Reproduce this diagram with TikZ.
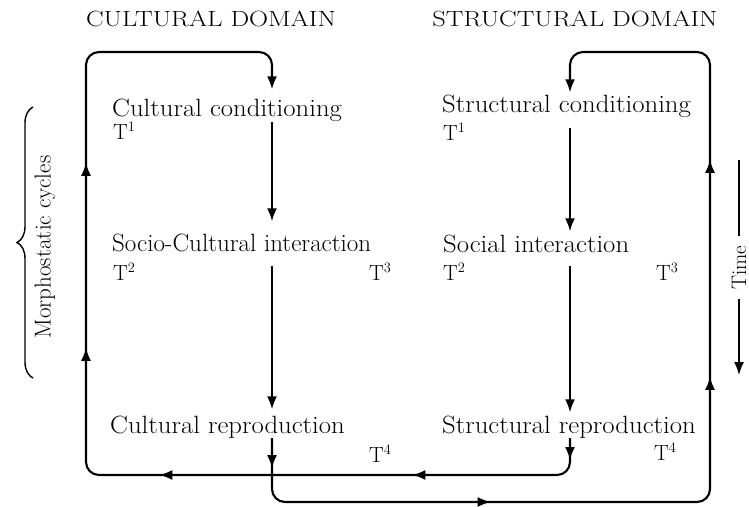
\documentclass[tikz,border=0pt]{standalone}
\usepackage{fontspec}
\usepackage{tikz}
\usetikzlibrary{arrows.meta,decorations.markings,decorations.pathreplacing}
\newcommand{\widetxt}[1]{\scalebox{1.07}[1]{#1}}
\newcommand{\widehead}[1]{\scalebox{1.2}[1]{#1}}
\tikzset{
  >={Latex[length=13pt,width=10pt]},
  txt/.style      = {font=\fontsize{25}{28}\selectfont, inner sep=0pt, anchor=base west},
  tmark/.style    = {font=\fontsize{22}{26}\selectfont, inner sep=0pt, anchor=base west},
  domainhead/.style = {font=\fontsize{22}{24}\selectfont, inner sep=0pt, anchor=base},
  flow/.style     = {draw, line width=2.1pt, ->},
  feedback/.style = {flow, rounded corners=13pt, postaction={decorate}}
}

\begin{document}
\begin{tikzpicture}[x=1pt, y=-1pt]
  \useasboundingbox (0,0) rectangle (749,506);

  % columns and rows of the loops
  \coordinate (colC) at (272,0);
  \coordinate (colS) at (570,0);
  \coordinate (colL) at (86,0);
  \coordinate (colR) at (710,0);
  \coordinate (top)  at (0,52);
  \coordinate (bot1) at (0,475);
  \coordinate (bot2) at (0,502);

  % headings
  \node [domainhead] (cultHead)   at (211,27) {\widehead{CULTURAL DOMAIN}};
  \node [domainhead] (structHead) at (575,27) {\widehead{STRUCTURAL DOMAIN}};

  % cultural domain
  \node [txt]   (cc)  at (112,116) {\widetxt{Cultural conditioning}};
  \node [tmark] (cT1) at (113,139) {T$^1$};
  \node [txt]   (ci)  at (112,251) {Socio-Cultural interaction};
  \node [tmark] (cT2) at (113,280) {T$^2$};
  \node [tmark] (cT3) at (369,280) {T$^3$};
  \node [txt]   (cr)  at (110,433) {\widetxt{Cultural reproduction}};
  \node [tmark] (cT4) at (369,462) {T$^4$};

  % structural domain
  \node [txt]   (sc)  at (442,112) {\widetxt{Structural conditioning}};
  \node [tmark] (sT1) at (443,140) {T$^1$};
  \node [txt]   (si)  at (443,252) {\widetxt{Social interaction}};
  \node [tmark] (sT2) at (443,280) {T$^2$};
  \node [tmark] (sT3) at (656,280) {T$^3$};
  \node [txt]   (sr)  at (442,433) {\widetxt{Structural reproduction}};
  \node [tmark] (sT4) at (654,460) {T$^4$};

  % downward flow in each domain
  \draw [flow, shorten <=1pt, shorten >=12pt] (cc.south -| colC) -- (ci.north -| colC);
  \draw [flow, shorten <=14pt, shorten >=6pt] (ci.south -| colC) -- (cr.north -| colC);
  \draw [flow, shorten <=11pt, shorten >=3pt] (sc.south -| colS) -- (si.north -| colS);
  \draw [flow, shorten <=13pt, shorten >=3pt] (si.south -| colS) -- (sr.north -| colS);

  % cultural reproduction back to structural conditioning
  \draw [feedback, shorten >=2pt,
         decoration={markings,
           mark=at position 30pt with {\arrow{>}},
           mark=at position 277pt with {\arrow{>}},
           mark=at position 616pt with {\arrow{>}},
           mark=at position 833pt with {\arrow{>}}}]
    (cr.south -| colC) -- (colC |- bot2) -- (colR |- bot2)
    -- (colR |- top) -- (colS |- top) -- (sc.north -| colS);

  % structural reproduction back to cultural conditioning
  \draw [feedback, shorten >=9pt,
         decoration={markings,
           mark=at position 22pt with {\arrow{>}},
           mark=at position 189pt with {\arrow{>}},
           mark=at position 442pt with {\arrow{>}},
           mark=at position 637pt with {\arrow{>}},
           mark=at position 822pt with {\arrow{>}}}]
    (sr.south -| colS) -- (colS |- bot1) -- (colL |- bot1)
    -- (colL |- top) -- (colC |- top) -- (cc.north -| colC);

  % morphostatic cycles
  \draw [decorate, decoration={brace, amplitude=16pt}, line width=1.4pt]
    (33,378) coordinate (braceLow) -- (33,107) coordinate (braceHigh);
  \node [font=\fontsize{23}{26}\selectfont, rotate=90, inner sep=0pt] (morph) at (45,247) {Morphostatic cycles};

  % time
  \coordinate (timeStart) at (739,160);
  \coordinate (timeEnd)   at (739,375);
  \draw [flow, line width=1.6pt] (timeStart) -- (timeEnd)
    node [midway, rotate=90, fill=white, inner xsep=9pt, inner ysep=0pt, font=\fontsize{21}{24}\selectfont] (time) {Time};
\end{tikzpicture}
\end{document}
